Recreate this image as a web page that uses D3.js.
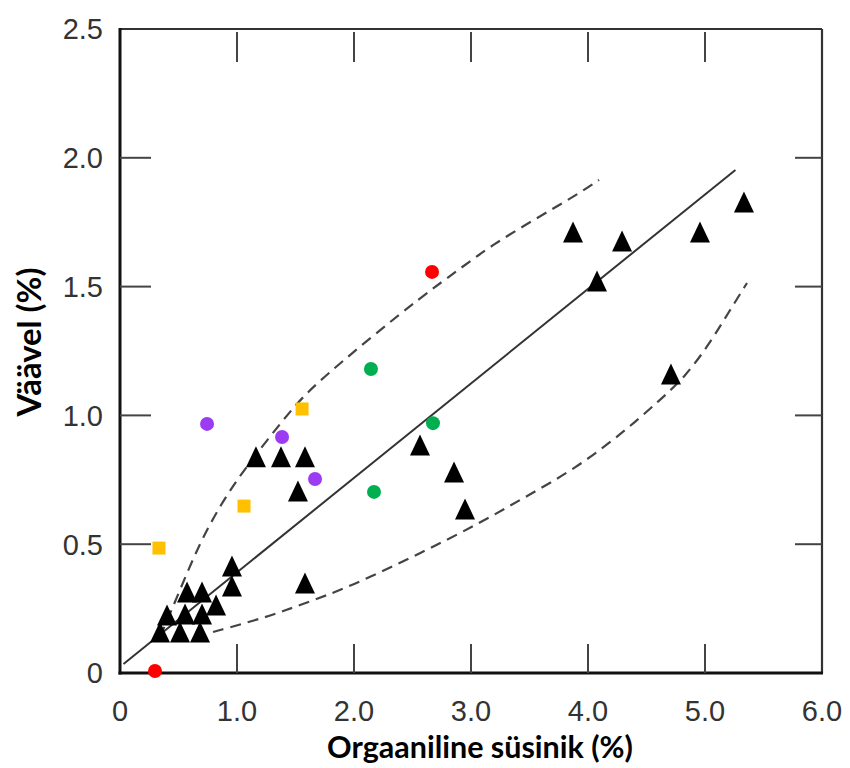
<!DOCTYPE html>
<html>
<head>
<meta charset="utf-8">
<script src="https://cdn.jsdelivr.net/npm/d3@7"></script>
<style>
  html, body { margin: 0; padding: 0; background: #fff; }
  svg { display: block; }
</style>
</head>
<body>
<svg id="chart" width="850" height="768"></svg>
<script>
// ---------------- data ----------------
const xTicks = [0, 1, 2, 3, 4, 5, 6];
const xTickLabels = ["0", "1.0", "2.0", "3.0", "4.0", "5.0", "6.0"];
const yTicks = [0, 0.5, 1, 1.5, 2, 2.5];
const yTickLabels = ["0", "0.5", "1.0", "1.5", "2.0", "2.5"];

const triX = [0.342, 0.513, 0.684, 0.402, 0.556, 0.701, 0.821, 0.573, 0.701, 0.957, 0.957, 1.581,
              1.162, 1.376, 1.581, 1.521, 2.564, 2.855, 2.949, 3.872, 4.291, 4.077, 4.957, 5.333, 4.709];
const triY = [0.159, 0.159, 0.159, 0.225, 0.229, 0.229, 0.264, 0.314, 0.314, 0.415, 0.338, 0.349,
              0.839, 0.839, 0.839, 0.707, 0.885, 0.780, 0.637, 1.712, 1.677, 1.522, 1.712, 1.828, 1.161];

const redX = [0.299, 2.667];
const redY = [0.008, 1.557];
const greenX = [2.145, 2.675, 2.171];
const greenY = [1.180, 0.970, 0.703];
const purpleX = [0.744, 1.385, 1.667];
const purpleY = [0.967, 0.916, 0.753];
const yellowX = [0.333, 1.060, 1.556];
const yellowY = [0.485, 0.648, 1.025];

const fitX = [0.03, 5.26];
const fitY = [0.035, 1.953];

const upperX = [0.342, 0.453, 0.684, 0.915, 1.111, 1.453, 1.650, 2.137, 2.564, 2.889, 3.179, 3.547, 3.889, 4.094];
const upperY = [0.140, 0.256, 0.512, 0.695, 0.819, 1.017, 1.114, 1.300, 1.456, 1.564, 1.661, 1.762, 1.852, 1.914];
const lowerX = [0.795, 1.256, 1.538, 1.966, 2.607, 3.060, 3.462, 3.889, 4.316, 4.615, 4.829, 5.043, 5.214, 5.359];
const lowerY = [0.159, 0.217, 0.264, 0.334, 0.474, 0.578, 0.683, 0.792, 0.939, 1.060, 1.149, 1.281, 1.409, 1.514];

const xTitle = "Orgaaniline süsinik (%)";
const yTitle = "Väävel (%)";

// ---------------- layout ----------------
const svg = d3.select("#chart");
const x = d3.scaleLinear().domain([0, 6]).range([120, 822]);
const y = d3.scaleLinear().domain([0, 2.5]).range([673, 29]);

const zip = (a, b) => a.map((v, i) => [v, b[i]]);

// frame
const x0 = x(0), x1 = x(6), y0 = y(0), y1 = y(2.5);
svg.append("line").attr("x1", x0).attr("x2", x1).attr("y1", y1).attr("y2", y1)
  .attr("stroke", "#333").attr("stroke-width", 2.2);
svg.append("line").attr("x1", x1).attr("x2", x1).attr("y1", y1).attr("y2", y0)
  .attr("stroke", "#333").attr("stroke-width", 2.2);
svg.append("line").attr("x1", x0).attr("x2", x0).attr("y1", y1 - 1).attr("y2", y0 + 1.5)
  .attr("stroke", "#111").attr("stroke-width", 3);
svg.append("line").attr("x1", x0 - 1.5).attr("x2", x1 + 1).attr("y1", y0).attr("y2", y0)
  .attr("stroke", "#111").attr("stroke-width", 3);

// inner ticks
const innerX = xTicks.filter(v => v > 0 && v < 6);
const innerY = yTicks.filter(v => v > 0 && v < 2.5);
const tickG = svg.append("g").attr("stroke", "#444").attr("stroke-width", 2);
innerX.forEach(v => {
  tickG.append("line").attr("x1", x(v)).attr("x2", x(v)).attr("y1", y0).attr("y2", y0 - 29);
  tickG.append("line").attr("x1", x(v)).attr("x2", x(v)).attr("y1", y1 + 3).attr("y2", y1 + 33);
});
innerY.forEach(v => {
  tickG.append("line").attr("x1", x0).attr("x2", x0 + 31).attr("y1", y(v)).attr("y2", y(v));
  tickG.append("line").attr("x1", x1).attr("x2", x1 - 27).attr("y1", y(v)).attr("y2", y(v));
});

// tick labels
const lblFont = "'Liberation Sans', Arial, sans-serif";
svg.append("g").selectAll("text").data(xTicks).join("text")
  .attr("x", d => x(d)).attr("y", 721)
  .attr("text-anchor", "middle")
  .attr("font-family", lblFont).attr("font-size", 29).attr("fill", "#333")
  .text((d, i) => xTickLabels[i]);
svg.append("g").selectAll("text").data(yTicks).join("text")
  .attr("x", 103).attr("y", d => y(d)).attr("dy", "0.36em")
  .attr("text-anchor", "end")
  .attr("font-family", lblFont).attr("font-size", 29).attr("fill", "#333")
  .text((d, i) => yTickLabels[i]);

// axis titles
const titleFont = "Lato, 'Open Sans', sans-serif";
const xt = svg.append("text").attr("x", 480).attr("y", 758)
  .attr("text-anchor", "middle").attr("font-family", titleFont)
  .attr("font-weight", "bold").attr("font-size", 26).attr("fill", "#000").text(xTitle);
const xw = xt.node().getComputedTextLength();
xt.attr("font-size", 26 * 306 / xw);
const yt = svg.append("text").attr("transform", "translate(41,342) rotate(-90)")
  .attr("text-anchor", "middle").attr("font-family", titleFont)
  .attr("font-weight", "bold").attr("font-size", 26).attr("fill", "#000").text(yTitle);
const yw = yt.node().getComputedTextLength();
yt.attr("font-size", 26 * 149 / yw);

// lines
const line = d3.line().x(d => x(d[0])).y(d => y(d[1]));
svg.append("path").datum(zip(fitX, fitY)).attr("d", line)
  .attr("fill", "none").attr("stroke", "#333").attr("stroke-width", 2);
const curve = d3.line().x(d => x(d[0])).y(d => y(d[1])).curve(d3.curveBasis);
[[upperX, upperY], [lowerX, lowerY]].forEach(([a, b]) => {
  svg.append("path").datum(zip(a, b)).attr("d", curve)
    .attr("fill", "none").attr("stroke", "#444").attr("stroke-width", 2.2)
    .attr("stroke-dasharray", "11,7");
});

// markers
const triType = {
  draw(ctx, size) {
    const w = 10, h = 10.5;
    ctx.moveTo(0, -h); ctx.lineTo(w, h); ctx.lineTo(-w, h); ctx.closePath();
  }
};
svg.append("g").selectAll("path").data(zip(triX, triY)).join("path")
  .attr("transform", d => `translate(${x(d[0])},${y(d[1])})`)
  .attr("d", d3.symbol().type(triType).size(1))
  .attr("fill", "#000");

const circles = [[redX, redY, "#ff0000"], [greenX, greenY, "#00b050"], [purpleX, purpleY, "#9b3cf2"]];
circles.forEach(([a, b, c]) => {
  svg.append("g").selectAll("circle").data(zip(a, b)).join("circle")
    .attr("cx", d => x(d[0])).attr("cy", d => y(d[1])).attr("r", 7).attr("fill", c);
});
svg.append("g").selectAll("path").data(zip(yellowX, yellowY)).join("path")
  .attr("transform", d => `translate(${x(d[0])},${y(d[1])})`)
  .attr("d", d3.symbol().type(d3.symbolSquare).size(169))
  .attr("fill", "#ffc000");
</script>
</body>
</html>
